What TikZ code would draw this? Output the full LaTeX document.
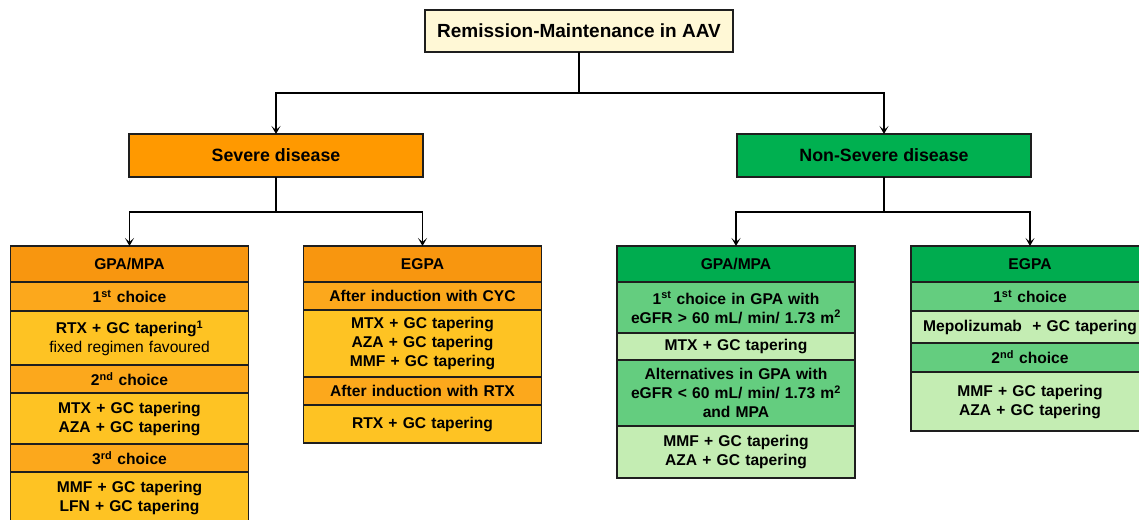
\documentclass[tikz,border=0pt]{standalone}
\usepackage{fontspec}
\setmainfont{Liberation Sans}
\usetikzlibrary{positioning,arrows.meta}

\definecolor{edge}{HTML}{1E1E1E}
\definecolor{cream}{HTML}{FFF8D6}
\definecolor{sevbox}{HTML}{FF9900}
\definecolor{orhead}{HTML}{F8960F}
\definecolor{orsub}{HTML}{FCA81C}
\definecolor{orbody}{HTML}{FEC323}
\definecolor{nsvbox}{HTML}{00B050}
\definecolor{grhead}{HTML}{00AC4F}
\definecolor{grsub}{HTML}{64CD7F}
\definecolor{grbody}{HTML}{C4EDB3}

\tikzset{
  ttl/.style={draw=edge, line width=1.4pt, fill=cream, minimum width=308pt, minimum height=42pt,
    inner sep=0pt, outer sep=0pt, font=\bfseries\fontsize{19}{22}\selectfont},
  grp/.style={draw=edge, line width=1.4pt, minimum width=294pt, minimum height=43pt,
    inner sep=0pt, outer sep=0pt, font=\bfseries\fontsize{17.8}{21}\selectfont},
  row/.style={draw=edge, line width=1.4pt, text width=238pt, inner sep=0pt, outer sep=0pt,
    align=center, font=\bfseries\fontsize{15.6}{19}\selectfont},
  link/.style={line width=1.4pt, draw=black},
  tip/.style={->,>={Stealth[length=8pt,width=9pt,inset=4pt]}},
}

\begin{document}
\begin{tikzpicture}[x=1pt,y=-1pt]
  \clip (0,0) rectangle (1139,519);

  % top levels
  \node[ttl] (T) at (579,31) {Remission-Maintenance in AAV};
  \node[grp, fill=sevbox] (S) at (276,155.5) {Severe disease};
  \node[grp, fill=nsvbox] (N) at (884,155.5) {Non-Severe disease};

  % severe, GPA/MPA
  \node[row, fill=orhead, minimum height=36pt, anchor=north] (SG) at (129.5,246) {GPA/MPA};
  \node[row, fill=orsub, minimum height=29pt, below=0pt of SG] (SG1) {1\textsuperscript{st} choice};
  \node[row, fill=orbody, minimum height=54pt, below=0pt of SG1] (SG1b)
    {RTX + GC tapering\textsuperscript{1}\\ {\mdseries fixed regimen favoured}};
  \node[row, fill=orsub, minimum height=28pt, below=0pt of SG1b] (SG2) {2\textsuperscript{nd} choice};
  \node[row, fill=orbody, minimum height=51pt, below=0pt of SG2] (SG2b)
    {MTX + GC tapering\\ AZA + GC tapering};
  \node[row, fill=orsub, minimum height=28pt, below=0pt of SG2b] (SG3) {3\textsuperscript{rd} choice};
  \node[row, fill=orbody, minimum height=52pt, below=0pt of SG3] (SG3b)
    {MMF + GC tapering\\ LFN + GC tapering\\[4pt]};

  % severe, EGPA
  \node[row, fill=orhead, minimum height=36pt, anchor=north] (SE) at (422.5,246) {EGPA};
  \node[row, fill=orsub, minimum height=28pt, below=0pt of SE] (SE1) {After induction with CYC};
  \node[row, fill=orbody, minimum height=67pt, below=0pt of SE1] (SE1b)
    {MTX + GC tapering\\ AZA + GC tapering\\ MMF + GC tapering};
  \node[row, fill=orsub, minimum height=28pt, below=0pt of SE1b] (SE2) {After induction with RTX};
  \node[row, fill=orbody, minimum height=38pt, below=0pt of SE2] (SE2b) {RTX + GC tapering};

  % non-severe, GPA/MPA
  \node[row, fill=grhead, minimum height=36pt, anchor=north] (NG) at (736,246) {GPA/MPA};
  \node[row, fill=grsub, minimum height=51pt, below=0pt of NG] (NG1)
    {1\textsuperscript{st} choice in GPA with\\ eGFR > 60 mL/ min/ 1.73 m\textsuperscript{2}};
  \node[row, fill=grbody, minimum height=27pt, below=0pt of NG1] (NG1b) {MTX + GC tapering};
  \node[row, fill=grsub, minimum height=66pt, below=0pt of NG1b] (NG2)
    {Alternatives in GPA with\\ eGFR < 60 mL/ min/ 1.73 m\textsuperscript{2}\\ and MPA};
  \node[row, fill=grbody, minimum height=52pt, below=0pt of NG2] (NG2b)
    {MMF + GC tapering\\ AZA + GC tapering};

  % non-severe, EGPA
  \node[row, fill=grhead, minimum height=36pt, anchor=north] (NE) at (1030,246) {EGPA};
  \node[row, fill=grsub, minimum height=29pt, below=0pt of NE] (NE1) {1\textsuperscript{st} choice};
  \node[row, fill=grbody, minimum height=32pt, below=0pt of NE1] (NE1b) {Mepolizumab\ \ + GC tapering};
  \node[row, fill=grsub, minimum height=29pt, below=0pt of NE1b] (NE2) {2\textsuperscript{nd} choice};
  \node[row, fill=grbody, minimum height=59pt, below=0pt of NE2] (NE2b)
    {MMF + GC tapering\\ AZA + GC tapering};

  % connectors
  \draw[link] (T.south) -- ++(0,41) coordinate (J);
  \draw[link,tip] (J) -| (S.north);
  \draw[link,tip] (J) -| (N.north);
  \draw[link] (S.south) -- ++(0,35) coordinate (JS);
  \draw[link,tip] (JS) -| (SG.north);
  \draw[link,tip] (JS) -| (SE.north);
  \draw[link] (N.south) -- ++(0,35) coordinate (JN);
  \draw[link,tip] (JN) -| (NG.north);
  \draw[link,tip] (JN) -| (NE.north);
\end{tikzpicture}
\end{document}
